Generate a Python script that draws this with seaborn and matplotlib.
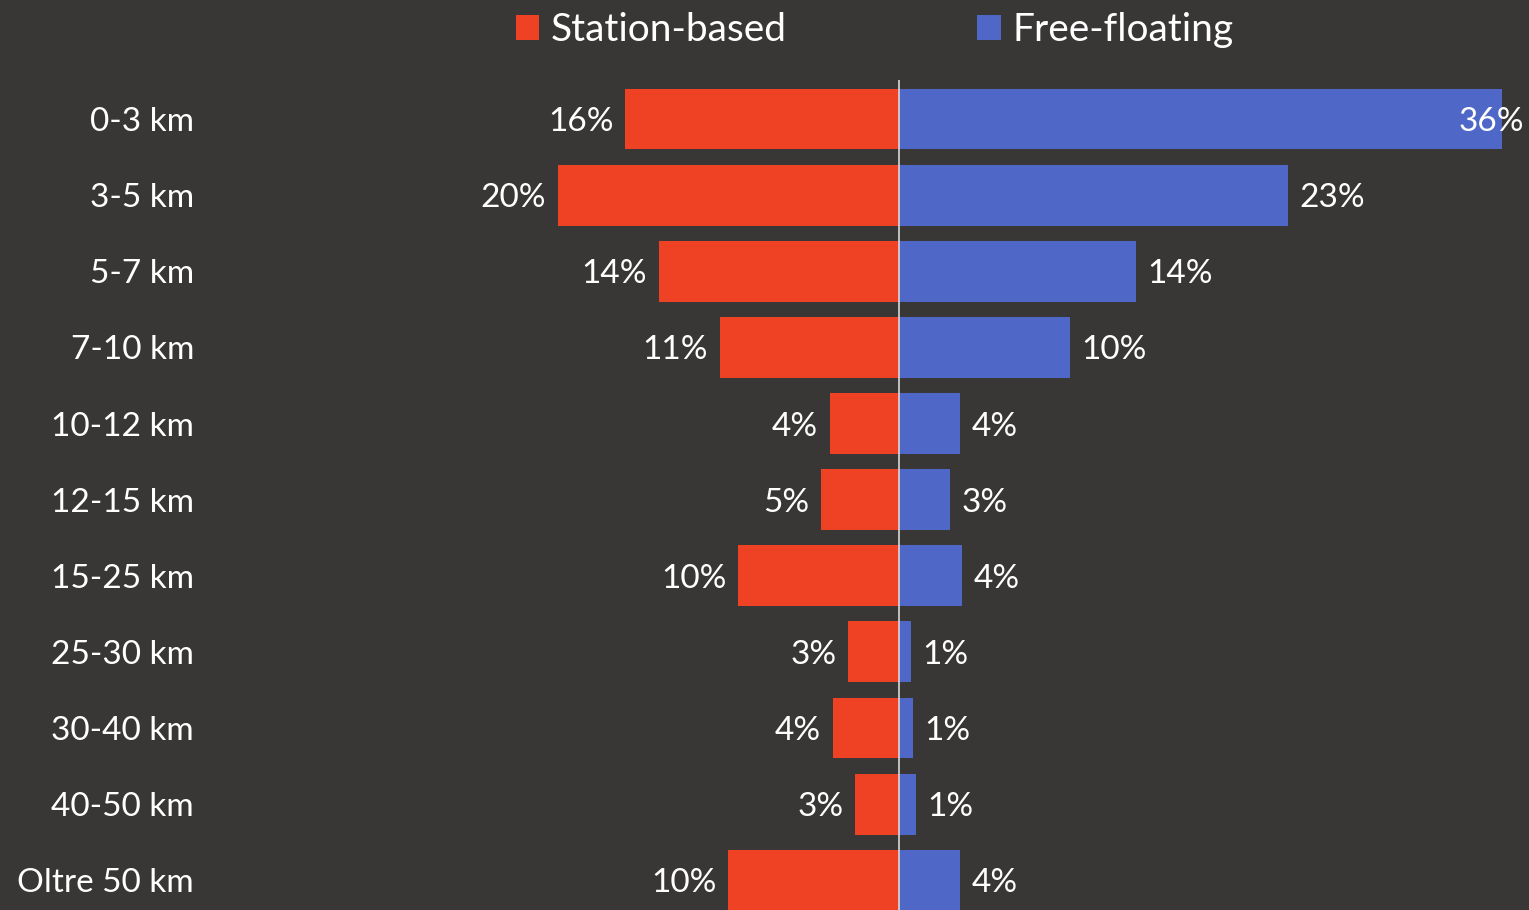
import pandas as pd
import numpy as np
import matplotlib
matplotlib.use("Agg")
import matplotlib.pyplot as plt
import seaborn as sns

# distance bands and shares (%)
CATEGORIES = ["0-3 km", "3-5 km", "5-7 km", "7-10 km", "10-12 km", "12-15 km",
              "15-25 km", "25-30 km", "30-40 km", "40-50 km", "Oltre 50 km"]
STATION_BASED = [16.2, 20.2, 14.2, 10.6, 4.1, 4.6, 9.5, 3.0, 3.9, 2.6, 10.1]
FREE_FLOATING = [35.7, 23.0, 14.0, 10.1, 3.6, 3.0, 3.7, 0.7, 0.8, 1.0, 3.6]
SERIES = ["Station-based", "Free-floating"]

BG = "#393736"
COLORS = {"Station-based": "#EF4123", "Free-floating": "#4F68C8"}

sns.set_style("dark")
plt.rcParams["font.family"] = ["Lato", "DejaVu Sans"]

# long-form table, station-based drawn to the left (negative)
df = pd.concat([
    pd.DataFrame({"band": CATEGORIES, "share": [-v for v in STATION_BASED], "series": SERIES[0]}),
    pd.DataFrame({"band": CATEGORIES, "share": FREE_FLOATING, "series": SERIES[1]}),
])

fig = plt.figure(figsize=(15.29, 9.10), dpi=100, facecolor=BG)
ax = fig.add_axes([205 / 1529, 0, 1 - 205 / 1529, 830 / 910])
ax.set_facecolor(BG)

sns.barplot(data=df, y="band", x="share", hue="series", order=CATEGORIES,
            hue_order=SERIES, palette=COLORS, dodge=False, orient="h",
            width=0.8, saturation=1, linewidth=0, ax=ax)

xmin, xmax = -41.07, 37.28
ax.set_xlim(xmin, xmax)
ax.set_ylim(10.39, -0.512)
ax.axvline(0, color="#d9d9d9", lw=1.2, zorder=5)

# value labels
pad = 0.7
for i, (s, f) in enumerate(zip(STATION_BASED, FREE_FLOATING)):
    ax.text(-s - pad, i, f"{s:.0f}%", ha="right", va="center_baseline",
            color="white", fontsize=24)
    if f + 4.5 > xmax:
        ax.text(xmax - 0.3, i, f"{f:.0f}%", ha="right", va="center_baseline",
                color="white", fontsize=24, clip_on=False)
    else:
        ax.text(f + pad, i, f"{f:.0f}%", ha="left", va="center_baseline",
                color="white", fontsize=24)

ax.set_xlabel("")
ax.set_ylabel("")
ax.set_xticks([])
ax.tick_params(axis="y", length=0, pad=8, labelsize=24, labelcolor="white")
ax.grid(False)
for sp in ax.spines.values():
    sp.set_visible(False)

handles, labels = ax.get_legend_handles_labels()
ax.legend_.remove()
fig.legend(handles, labels, loc="center", bbox_to_anchor=(0.572, 0.967),
           ncol=2, frameon=False, fontsize=28, labelcolor="white",
           handlelength=0.6, handleheight=0.6, handletextpad=0.3,
           columnspacing=4.9)

fig.savefig("out.png", dpi=100, facecolor=BG)
